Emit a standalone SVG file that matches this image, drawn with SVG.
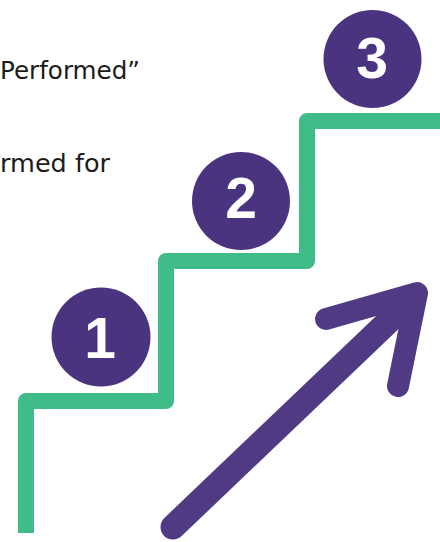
<svg xmlns="http://www.w3.org/2000/svg" width="440" height="542" viewBox="0 0 440 542">
  <style>
    .txt { font-family: "DejaVu Sans", "Liberation Sans", sans-serif; font-size: 25px; fill: #1b1b1b; }
    .circ { fill: #4A347F; }
    .num { font-family: "Liberation Sans", Arial, sans-serif; font-weight: bold; font-size: 57px; fill: #ffffff; text-anchor: middle; }
    .stairs { fill: none; stroke: #3FBC88; stroke-width: 16; stroke-linejoin: round; stroke-linecap: butt; }
    .arrow { fill: none; stroke: #503A84; stroke-linecap: round; stroke-linejoin: round; }
  </style>
  <g id="text">
    <text class="txt" x="0" y="79" textLength="140" lengthAdjust="spacingAndGlyphs">Performed”</text>
    <text class="txt" x="0" y="172" textLength="110" lengthAdjust="spacingAndGlyphs">rmed for</text>
  </g>
  <g id="stairs">
    <path class="stairs" d="M 26 533 L 26 401 L 166 401 L 166 261 L 307 261 L 307 121 L 448 121"/>
  </g>
  <g id="step1">
    <circle class="circ" cx="101" cy="337" r="49.5"/>
    <text class="num" x="100" y="358">1</text>
  </g>
  <g id="step2">
    <circle class="circ" cx="241" cy="201" r="49"/>
    <text class="num" x="241" y="218">2</text>
  </g>
  <g id="step3">
    <circle class="circ" cx="372.5" cy="59" r="49"/>
    <text class="num" x="372" y="78">3</text>
  </g>
  <g id="connectors">
    <path class="arrow" stroke-width="25" d="M 173 527 L 412 299"/>
    <path class="arrow" stroke-width="22" d="M 326 319 L 417 293 L 398 386"/>
  </g>
</svg>
